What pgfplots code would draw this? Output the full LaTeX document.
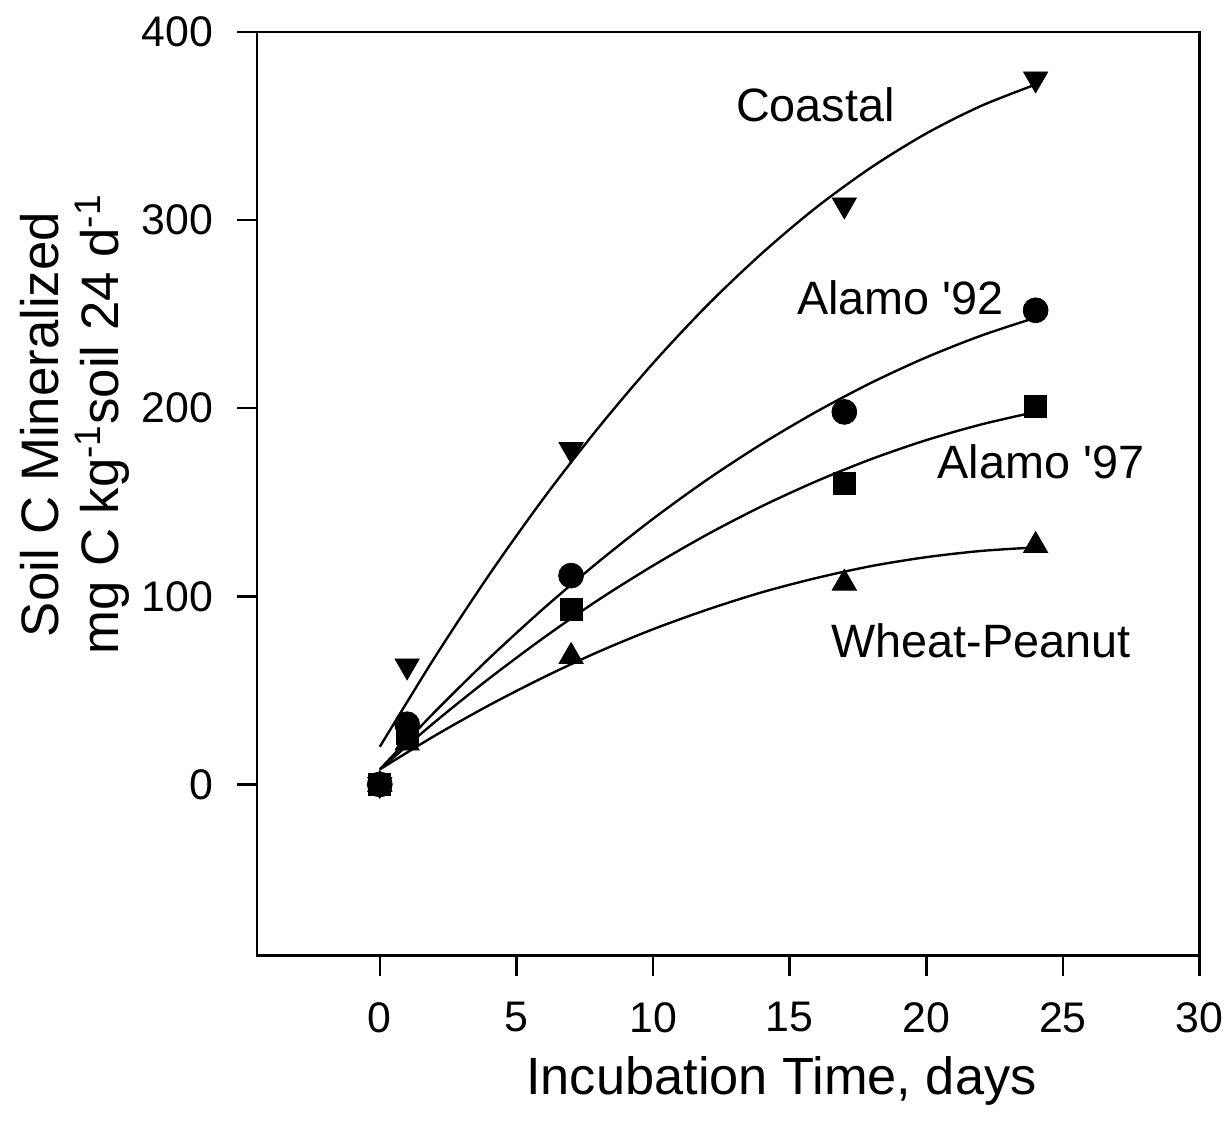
\documentclass[border=0pt]{standalone}
\usepackage{fontspec}
\setmainfont{Liberation Sans}
\usepackage{pgfplots}
\pgfplotsset{compat=1.18}
\begin{document}
\begin{tikzpicture}
\begin{axis}[
  scale only axis,
  width=473.5pt, height=464pt,
  xmin=-4.5, xmax=30, ymin=-91, ymax=400,
  xtick={0,5,...,30}, ytick={0,100,...,400},
  tick align=outside, tick pos=left,
  major tick length=10pt,
  axis line style={line width=1.3pt},
  every tick/.style={line width=1.3pt, black},
  tick label style={font=\fontsize{21.5}{25}\selectfont},
  xticklabel style={yshift=-10pt},
  yticklabel style={xshift=-8.5pt},
  /pgf/number format/assume math mode=true,
  xlabel={Incubation Time, days},
  xlabel style={font=\fontsize{26.3}{30}\selectfont, at={(rel axis cs:0.5565,-0.1505)}, anchor=base},
  ylabel={Soil C Mineralized\\mg C kg\textsuperscript{-1}soil 24 d\textsuperscript{-1}},
  ylabel style={font=\fontsize{26.5}{30}\selectfont, align=center, at={(rel axis cs:-0.1932,0.575)}, anchor=center},
  clip=false,
]
% fitted curves
\addplot[black, line width=1.2pt, smooth] coordinates {
(0,20) (2,67.3) (4,111.4) (6,152.2) (8,189.6) (10,223.9) (12,254.9) (14,282.5) (16,307.0) (18,328.1) (20,346.0) (22,360.6) (24,372)};
\addplot[black, line width=1.2pt, smooth] coordinates {
(0,8) (2,38.4) (4,67.0) (6,93.6) (8,118.3) (10,141.2) (12,162.2) (14,181.2) (16,198.3) (18,213.6) (20,227.0) (22,238.5) (24,248.1)};
\addplot[black, line width=1.2pt, smooth] coordinates {
(0,8) (2,33.0) (4,56.3) (6,78.0) (8,98.1) (10,116.3) (12,133.0) (14,148.0) (16,161.3) (18,173.0) (20,183.0) (22,191.3) (24,198.0)};
\addplot[black, line width=1.2pt, smooth] coordinates {
(0,8) (2,25.8) (4,42.1) (6,57.0) (8,70.5) (10,82.5) (12,93.0) (14,102.2) (16,109.8) (18,116.1) (20,120.8) (22,124.1) (24,126.0)};
% data points
\addplot[only marks, mark=triangle*, mark size=7pt, mark options={rotate=180, fill=black, draw=black}] coordinates {
(0,0) (1,63) (7,178) (17,308) (24,375)};
\addplot[only marks, mark=*, mark size=6.25pt, mark options={fill=black, draw=black}] coordinates {
(0,0) (1,32) (7,111) (17,198) (24,252)};
\addplot[only marks, mark=square*, mark size=5.5pt, mark options={fill=black, draw=black}] coordinates {
(0,0) (1,27) (7,93) (17,160) (24,201)};
\addplot[only marks, mark=triangle*, mark size=7pt, mark options={fill=black, draw=black}] coordinates {
(0,0) (1,22) (7,68) (17,107) (24,127)};
% annotations
\node[font=\fontsize{23.5}{28}\selectfont] at (axis cs:15.94,361.5) {Coastal};
\node[font=\fontsize{23.5}{28}\selectfont] at (axis cs:19.05,258.6) {Alamo \textquotesingle92};
\node[font=\fontsize{23.5}{28}\selectfont] at (axis cs:24.2,171.5) {Alamo \textquotesingle97};
\node[font=\fontsize{23.5}{28}\selectfont] at (axis cs:22.0,76.5) {Wheat-Peanut};
\end{axis}
\path ([xshift=-129pt,yshift=-86pt]current axis.south west) rectangle ([xshift=12.5pt,yshift=16pt]current axis.north east);
\end{tikzpicture}
\end{document}
